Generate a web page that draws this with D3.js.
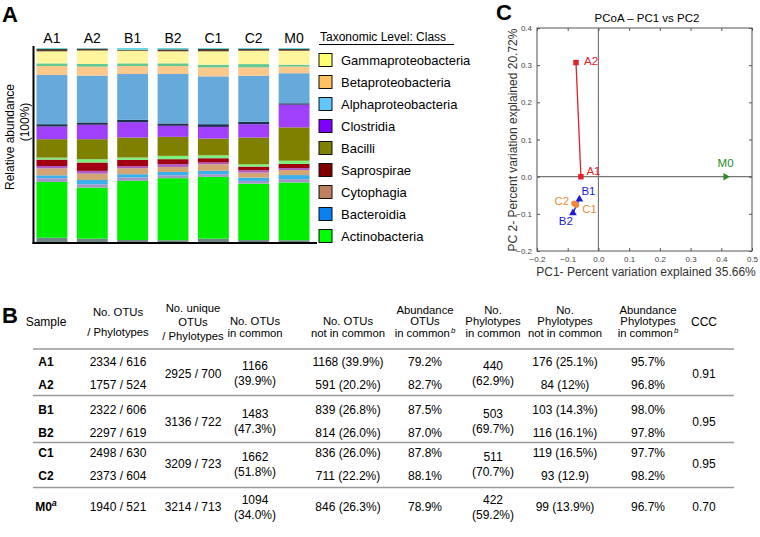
<!DOCTYPE html>
<html><head><meta charset="utf-8">
<script src="https://cdn.jsdelivr.net/npm/d3@7"></script>
<style>
body{margin:0;background:#fff}
svg{display:block}
text{font-family:"Liberation Sans",Arial,Helvetica,sans-serif}
</style>
</head><body>
<svg id="fig" width="760" height="537"></svg>
<script>
// ================= DATA =================
// Panel A : relative abundance (%) per sample, stack order bottom -> top
const samples = ["A1","A2","B1","B2","C1","C2","M0"];
const stackKeys = ["Minor grey","Actinobacteria","Minor lavender","Bacteroidia","Cytophagia","Minor mauve",
  "Saprospirae","Minor light green","Bacilli","Clostridia","Minor navy","Alphaproteobacteria",
  "Betaproteobacteria","Minor teal","Gammaproteobacteria","Minor brown","Minor cyan"];
const minorGrey        = [2.2,1.7,1.0,0.9,1.7,1.0,0.9];
const actinobacteria   = [28.7,26.3,30.5,32.0,31.8,29.1,29.8];
const minorLavender    = [1.9,1.7,1.7,1.5,1.4,1.4,1.7];
const bacteroidia      = [1.5,2.2,1.7,1.7,1.7,1.7,2.1];
const cytophagia       = [3.6,3.3,3.1,2.6,3.4,2.6,2.6];
const minorMauve       = [1.2,1.4,1.0,1.4,0.9,1.2,1.0];
const saprospirae      = [3.3,4.3,3.3,2.6,2.2,1.9,2.1];
const minorLightGreen  = [1.0,1.7,1.2,1.7,1.5,1.2,1.7];
const bacilli          = [9.5,10.3,10.3,9.8,8.6,13.8,17.2];
const clostridia       = [6.5,7.4,7.9,5.7,6.0,6.9,11.7];
const minorNavy        = [1.2,1.2,1.2,1.2,1.4,1.2,0.7];
const alphaproteo      = [25.3,24.1,23.6,25.5,24.6,23.8,15.5];
const betaproteo       = [4.6,4.6,4.1,4.1,4.6,4.3,3.4];
const minorTeal        = [1.4,1.4,1.4,1.4,1.4,1.7,1.0];
const gammaproteo      = [6.2,6.9,6.5,6.2,6.9,6.9,7.2];
const minorBrown       = [1.2,1.0,0.5,1.0,1.2,0.9,0.9];
const minorCyan        = [0.5,0.3,0.9,0.7,0.5,0.5,0.5];
const stackSeries = [minorGrey,actinobacteria,minorLavender,bacteroidia,cytophagia,minorMauve,
  saprospirae,minorLightGreen,bacilli,clostridia,minorNavy,alphaproteo,betaproteo,minorTeal,
  gammaproteo,minorBrown,minorCyan];
const stackColors = ["#6f8585","#00ee00","#a495c8","#3ab0ec","#d4a574","#b05cc8","#a00012","#7ef07e",
  "#7f7f00","#a040fa","#1e3050","#66aadc","#fcc88c","#64c890","#fff59c","#5a3a28","#60d8e0"];

const legendTitle = "Taxonomic Level: Class";
const legendKeys = ["Gammaproteobacteria","Betaproteobacteria","Alphaproteobacteria","Clostridia",
  "Bacilli","Saprospirae","Cytophagia","Bacteroidia","Actinobacteria"];
const legendColors = ["#ffff70","#ffc060","#60c8f8","#8000ff","#808000","#800000","#c08060","#0a80f0","#00ff00"];

// Panel C : PCoA coordinates
const pcoaLabels = ["A1","A2","B1","B2","C1","C2","M0"];
const pcoaGroups = ["A","A","B","B","C","C","M"];
const pc1 = [-0.057,-0.073,-0.062,-0.083,-0.072,-0.079,0.414];
const pc2 = [0.000,0.307,-0.061,-0.098,-0.076,-0.072,0.000];
const pcXTicks = [-0.2,-0.1,0.0,0.1,0.2,0.3,0.4,0.5];
const pcYTicks = [-0.2,-0.1,0.0,0.1,0.2,0.3,0.4];

// Panel B : table
const colHeaders = [["Sample"],["No. OTUs","/ Phylotypes"],["No. unique","OTUs","/ Phylotypes"],
  ["No. OTUs","in common"],["No. OTUs","not in common"],["Abundance","OTUs","in common|b"],
  ["No.","Phylotypes","in common"],["No.","Phylotypes","not in common"],
  ["Abundance","Phylotypes","in  common|b"],["CCC"]];
const tSamples       = ["A1","A2","B1","B2","C1","C2","M0"];
const otusPhylo      = ["2334 / 616","1757 / 524","2322 / 606","2297 / 619","2498 / 630","2373 / 604","1940 / 521"];
const uniqueOtus     = ["2925 / 700","3136 / 722","3209 / 723","3214 / 713"];
const otusCommon     = ["1166","1483","1662","1094"];
const otusCommonPct  = ["(39.9%)","(47.3%)","(51.8%)","(34.0%)"];
const otusNotCommon  = ["1168 (39.9%)","591 (20.2%)","839 (26.8%)","814 (26.0%)","836 (26.0%)","711  (22.2%)","846 (26.3%)"];
const abundOtus      = ["79.2%","82.7%","87.5%","87.0%","87.8%","88.1%","78.9%"];
const phyloCommon    = ["440","503","511","422"];
const phyloCommonPct = ["(62.9%)","(69.7%)","(70.7%)","(59.2%)"];
const phyloNotCommon = ["176 (25.1%)","84 (12%)","103 (14.3%)","116 (16.1%)","119 (16.5%)","93 (12.9)","99 (13.9%)"];
const abundPhylo     = ["95.7%","96.8%","98.0%","97.8%","97.7%","98.2%","96.7%"];
const ccc            = ["0.91","0.95","0.95","0.70"];

// ================= DRAW =================
const svg = d3.select("#fig");
const FONT = '"Liberation Sans",Arial,Helvetica,sans-serif';

function panelLabel(t,x,y){
  svg.append("text").attr("x",x).attr("y",y).attr("font-size",22).attr("font-weight","bold").text(t);
}
panelLabel("A",2,22); panelLabel("B",2,323); panelLabel("C",496,20);

// ---------- Panel A ----------
const gA = svg.append("g");
const xA = d3.scaleBand().domain(samples).range([36.5,309.5]).paddingInner(0.235).paddingOuter(0);
const yA = d3.scaleLinear().domain([0,1]).range([242,48]);
const rows = samples.map((s,i)=>{const o={sample:s}; stackKeys.forEach((k,j)=>o[k]=stackSeries[j][i]); return o;});
const stacked = d3.stack().keys(stackKeys).offset(d3.stackOffsetExpand)(rows);
gA.selectAll("g.layer").data(stacked).join("g").attr("class","layer")
  .attr("fill",(d,i)=>stackColors[i])
  .selectAll("rect").data(d=>d).join("rect")
  .attr("x",d=>xA(d.data.sample)).attr("width",xA.bandwidth())
  .attr("y",d=>yA(d[1])).attr("height",d=>yA(d[0])-yA(d[1]));
gA.selectAll("text.col").data(samples).join("text").attr("class","col")
  .attr("x",d=>xA(d)+xA.bandwidth()/2).attr("y",43).attr("text-anchor","middle")
  .attr("font-size",14).text(d=>d);
gA.append("line").attr("x1",33.5).attr("x2",33.5).attr("y1",46).attr("y2",244).attr("stroke","#000").attr("stroke-width",2);
gA.append("line").attr("x1",32.5).attr("x2",317).attr("y1",243).attr("y2",243).attr("stroke","#000").attr("stroke-width",2);
gA.append("text").attr("transform","translate(14,137) rotate(-90)").attr("text-anchor","middle")
  .attr("font-size",12).text("Relative abundance");
gA.append("text").attr("transform","translate(29,122) rotate(-90)").attr("text-anchor","middle")
  .attr("font-size",12).text("(100%)");

// legend
const gL = svg.append("g");
gL.append("text").attr("x",320).attr("y",41).attr("font-size",12).text(legendTitle);
gL.append("line").attr("x1",319).attr("x2",454).attr("y1",44.5).attr("y2",44.5).attr("stroke","#000").attr("stroke-width",1.2);
const lg = gL.selectAll("g.li").data(legendKeys).join("g").attr("class","li")
  .attr("transform",(d,i)=>`translate(319,${60+i*22})`);
lg.append("rect").attr("x",0).attr("y",-6.5).attr("width",13).attr("height",13)
  .attr("fill",(d,i)=>legendColors[i]).attr("stroke","#111").attr("stroke-width",1);
lg.append("text").attr("x",22).attr("y",4.7).attr("font-size",13).text(d=>d);

// ---------- Panel C ----------
const gC = svg.append("g");
const xC = d3.scaleLinear().domain([-0.2,0.5]).range([537,752]);
const yC = d3.scaleLinear().domain([-0.2,0.4]).range([251,28]);
const fmt = v => (v<0?"\u2212":"")+Math.abs(v).toFixed(1);
gC.append("rect").attr("x",537).attr("y",28).attr("width",215).attr("height",223)
  .attr("fill","none").attr("stroke","#555").attr("stroke-width",1);
// zero lines
gC.append("line").attr("x1",xC(0)).attr("x2",xC(0)).attr("y1",28).attr("y2",251).attr("stroke","#777").attr("stroke-width",1.2);
gC.append("line").attr("x1",537).attr("x2",752).attr("y1",yC(0)).attr("y2",yC(0)).attr("stroke","#777").attr("stroke-width",1.2);
// ticks
const axB = d3.axisBottom(xC).tickValues(pcXTicks).tickSize(-3).tickPadding(5).tickFormat(fmt);
const axT = d3.axisTop(xC).tickValues(pcXTicks).tickSize(-3).tickFormat("");
const axL = d3.axisLeft(yC).tickValues(pcYTicks).tickSize(-3).tickPadding(5).tickFormat(fmt);
const axR = d3.axisRight(yC).tickValues(pcYTicks).tickSize(-3).tickFormat("");
[[axB,`translate(0,251)`],[axT,`translate(0,28)`],[axL,`translate(537,0)`],[axR,`translate(752,0)`]].forEach(([a,t])=>{
  const g = gC.append("g").attr("transform",t).call(a);
  g.select(".domain").remove();
  g.selectAll("line").attr("stroke","#555");
  g.selectAll("text").attr("font-size",8).attr("fill","#444").attr("font-family",FONT);
});
gC.append("text").attr("x",647).attr("y",22).attr("text-anchor","middle").attr("font-size",11.5).text("PCoA \u2013 PC1 vs PC2");
gC.append("text").attr("x",646).attr("y",276).attr("text-anchor","middle").attr("font-size",12)
  .attr("fill","#333").text("PC1- Percent variation explained 35.66%");
gC.append("text").attr("transform","translate(517,140) rotate(-90)").attr("text-anchor","middle").attr("font-size",12)
  .attr("fill","#333").text("PC 2- Percent variation explained 20.72%");

const grpColor = {A:"#e4202a",B:"#1c1cd8",C:"#f08a3a",M:"#2a8a2a"};
const pts = pcoaLabels.map((l,i)=>({label:l,g:pcoaGroups[i],x:pc1[i],y:pc2[i]}));
// connecting lines within replicate pairs
["A","B","C"].forEach(g=>{
  const p = pts.filter(d=>d.g===g);
  gC.append("line").attr("x1",xC(p[0].x)).attr("y1",yC(p[0].y)).attr("x2",xC(p[1].x)).attr("y2",yC(p[1].y))
    .attr("stroke",grpColor[g]).attr("stroke-width",1.3);
});
const sym = {A:d3.symbolSquare,B:d3.symbolTriangle,C:d3.symbolCircle,M:d3.symbolTriangle};
const symSize = {A:30,B:26,C:26,M:24};
gC.selectAll("path.pt").data(pts).join("path").attr("class","pt")
  .attr("d",d=>d3.symbol(sym[d.g],symSize[d.g])())
  .attr("transform",d=>`translate(${xC(d.x)},${yC(d.y)})${d.g==="M"?" rotate(90)":""}`)
  .attr("fill",d=>grpColor[d.g]);
const labOff = {A1:[5.5,-6,"start"],A2:[8,-2,"start"],B1:[2,-8,"start"],B2:[0,7.5,"end"],
  C1:[6,4,"start"],C2:[-5,-2,"end"],M0:[0,-14,"middle"]};
gC.selectAll("text.pl").data(pts).join("text").attr("class","pl")
  .attr("x",d=>xC(d.x)+labOff[d.label][0]).attr("y",d=>yC(d.y)+labOff[d.label][1]+4)
  .attr("text-anchor",d=>labOff[d.label][2]).attr("font-size",11.5)
  .attr("fill",d=>grpColor[d.g]).text(d=>d.label);

// ---------- Panel B (table) ----------
const gT = svg.append("g").attr("font-size",12);
const colX = [46,118,193,255,348,425,493,565,648,704];
const hdrY = [[322],[311.7,331.7],[308,322,336],[320.5,332.5],[320.5,332.5],
  [309.5,321,332.5],[309.5,321,332.5],[309.5,321,332.5],[309.5,321,332.5],[321.7]];
const BL = 4.0; // baseline offset from text centre
colHeaders.forEach((lines,c)=>{
  lines.forEach((ln,k)=>{
    const t = gT.append("text").attr("x",colX[c]).attr("y",hdrY[c][k]+BL).attr("text-anchor","middle")
      .attr("font-size",lines.length===1?12:11.3);
    const parts = ln.split("|");
    t.append("tspan").text(parts[0]);
    if(parts[1]) t.append("tspan").attr("font-size",8).attr("font-style","italic").attr("dx",1).attr("dy",-3.2).text(parts[1]);
  });
});
const rowY = [362,385,410,433,452.5,475.5,507];
const grpY = [373.5,421.5,464,507];
// rules
gT.append("line").attr("x1",33).attr("x2",734).attr("y1",349).attr("y2",349).attr("stroke","#666").attr("stroke-width",1.2);
[395.5,442.5,487.5].forEach(y=>gT.append("line").attr("x1",33).attr("x2",734).attr("y1",y).attr("y2",y)
  .attr("stroke","#999").attr("stroke-width",1.5));
function rowText(arr,c,ys){
  arr.forEach((v,i)=>gT.append("text").attr("x",colX[c]).attr("y",ys[i]+BL).attr("text-anchor","middle").text(v));
}
tSamples.forEach((s,i)=>{
  const t = gT.append("text").attr("x",colX[0]).attr("y",rowY[i]+BL).attr("text-anchor","middle").attr("font-weight","bold");
  t.append("tspan").text(s);
  if(s==="M0") t.append("tspan").attr("font-size",9).attr("font-style","italic").attr("dy",-5).text("a");
});
rowText(otusPhylo,1,rowY);
rowText(uniqueOtus,2,grpY);
rowText(otusCommon,3,grpY.map(y=>y-7.5));
rowText(otusCommonPct,3,grpY.map(y=>y+7.5));
rowText(otusNotCommon,4,rowY);
rowText(abundOtus,5,rowY);
rowText(phyloCommon,6,grpY.map(y=>y-7.5));
rowText(phyloCommonPct,6,grpY.map(y=>y+7.5));
rowText(phyloNotCommon,7,rowY);
rowText(abundPhylo,8,rowY);
rowText(ccc,9,grpY);
</script>
</body></html>
